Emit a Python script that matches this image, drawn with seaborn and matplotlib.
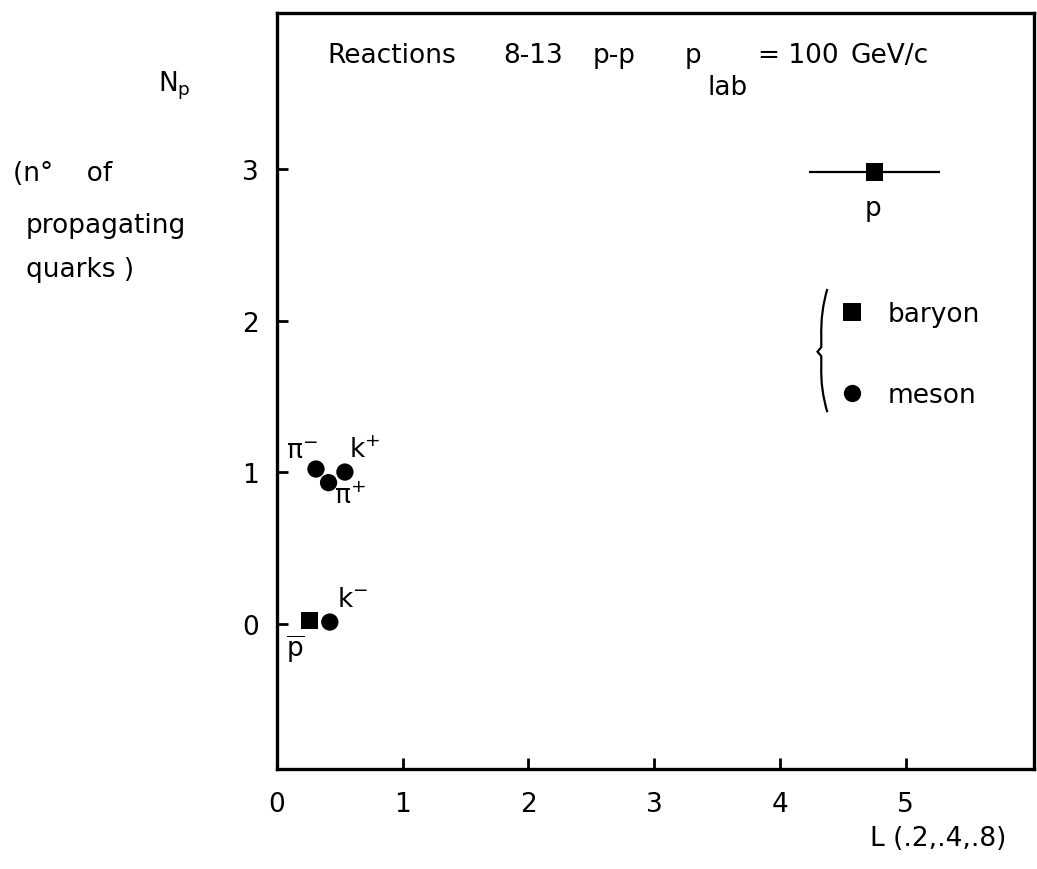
import numpy as np
import pandas as pd
import matplotlib
matplotlib.use("Agg")
import matplotlib.pyplot as plt
from matplotlib.path import Path
from matplotlib.patches import PathPatch
import seaborn as sns

# Particle positions: L(.2,.4,.8) against number of propagating quarks
particles = ["p", "pbar", "pi-", "pi+", "k+", "k-"]
L_values = [4.75, 0.26, 0.31, 0.41, 0.54, 0.42]
Np_values = [2.98, 0.02, 1.02, 0.93, 1.00, 0.01]
kinds = ["baryon", "baryon", "meson", "meson", "meson", "meson"]
L_err = [0.52, 0, 0, 0, 0, 0]

particle_labels = {
    "p": r"p",
    "pbar": r"$\overline{\mathrm{p}}$",
    "pi-": r"$\pi^{-}$",
    "pi+": r"$\pi^{+}$",
    "k+": r"k$^{+}$",
    "k-": r"k$^{-}$",
}
# label anchor offsets (data units) relative to each particle
label_offsets = {
    "p": (-0.01, -0.24),
    "pbar": (-0.11, -0.185),
    "pi-": (-0.11, 0.12),
    "pi+": (0.17, -0.09),
    "k+": (0.16, 0.15),
    "k-": (0.18, 0.155),
}

x_ticks = [0, 1, 2, 3, 4, 5]
y_ticks = [0, 1, 2, 3]

df = pd.DataFrame({"particle": particles, "L": L_values, "Np": Np_values,
                   "kind": kinds, "err": L_err})

sns.set_theme(style="ticks")
plt.rcParams["font.family"] = ["DejaVu Sans"]
plt.rcParams["mathtext.fontset"] = "dejavusans"
plt.rcParams["mathtext.default"] = "regular"
FS = 19
W, H = 1037, 870

fig = plt.figure(figsize=(W / 100, H / 100), dpi=100)
ax = fig.add_axes([277 / W, 1 - 770 / H, (1034 - 277) / W, (770 - 14) / H])

# horizontal error bar on the proton
with_err = df[df["err"] > 0]
ax.errorbar(with_err["L"], with_err["Np"], xerr=with_err["err"], fmt="none",
            ecolor="black", elinewidth=1.6, capsize=0, zorder=2)

sns.scatterplot(data=df, x="L", y="Np", style="kind",
                markers={"baryon": "s", "meson": "o"},
                color="black", s=155, edgecolor="black", linewidth=0,
                ax=ax, zorder=3, legend=True)

for _, row in df.iterrows():
    dx, dy = label_offsets[row["particle"]]
    ax.text(row["L"] + dx, row["Np"] + dy, particle_labels[row["particle"]],
            ha="center", va="center", fontsize=FS, color="black")

ax.set_xlim(0, 6.02)
ax.set_ylim(-0.96, 4.03)
ax.set_xticks(x_ticks)
ax.set_yticks(y_ticks)
ax.set_xticklabels([str(t) for t in x_ticks])
ax.set_yticklabels([str(t) for t in y_ticks])
ax.tick_params(direction="in", length=8, width=2, labelsize=FS, color="black",
               labelcolor="black")
ax.tick_params(axis="x", pad=16)
ax.tick_params(axis="y", pad=13)
for sp in ax.spines.values():
    sp.set_linewidth(2.4)
    sp.set_color("black")

ax.set_xlabel("L (.2,.4,.8)", fontsize=FS, color="black")
ax.xaxis.set_label_coords((938 - 277) / 757, (770 - 826) / 756)
ax.set_ylabel("")

# legend on the right, grouped with a brace
handles, labels = ax.get_legend_handles_labels()
pairs = [(h, l) for h, l in zip(handles, labels) if l in ("baryon", "meson")]
leg = ax.legend([h for h, _ in pairs], [l for _, l in pairs],
                loc="center left", bbox_to_anchor=(0.711, 0.548),
                frameon=False, fontsize=FS, labelspacing=2.08,
                handletextpad=0.83, handlelength=1.0, markerscale=1.0)
for h in leg.legend_handles:
    h.set_color("black")
for t in leg.get_texts():
    t.set_color("black")

# brace to the left of the legend entries
bx, by0, by1 = 0.722, 0.472, 0.635
bm = 0.552
verts = [(bx + 0.005, by1), (bx - 0.004, by1 - 0.03), (bx - 0.003, bm + 0.02),
         (bx - 0.003, bm + 0.006), (bx - 0.008, bm),
         (bx - 0.003, bm - 0.006), (bx - 0.003, bm - 0.02),
         (bx - 0.004, by0 + 0.03), (bx + 0.005, by0)]
codes = [Path.MOVETO, Path.CURVE3, Path.CURVE3, Path.LINETO, Path.LINETO,
         Path.LINETO, Path.LINETO, Path.CURVE3, Path.CURVE3]
ax.add_patch(PathPatch(Path(verts, codes), transform=ax.transAxes,
                       fill=False, lw=1.6, color="black"))


# reaction header, placed piece by piece (pixel columns of the axes box)
def ax_x(px):
    return (px - 277) / 757


def ax_y(py):
    return (770 - py) / 756


header = [("Reactions", 327, 63), ("8-13", 503, 63), ("p-p", 593, 63),
          ("p", 685, 63), ("lab", 707, 95), ("= 100", 758, 63),
          ("GeV/c", 850, 63)]
for txt, px, py in header:
    ax.text(ax_x(px), ax_y(py), txt, transform=ax.transAxes, fontsize=FS,
            ha="left", va="baseline", color="black")

# y-axis description
fig.text(158 / W, 1 - 86 / H, r"N$_{\mathrm{p}}$", fontsize=FS,
         ha="left", va="center", color="black")
fig.text(13 / W, 1 - 174 / H, "(n°    of", fontsize=FS,
         ha="left", va="center", color="black")
fig.text(26 / W, 1 - 226 / H, "propagating", fontsize=FS,
         ha="left", va="center", color="black")
fig.text(26 / W, 1 - 270 / H, "quarks )", fontsize=FS,
         ha="left", va="center", color="black")

fig.savefig("out.png", dpi=100, facecolor="white")
